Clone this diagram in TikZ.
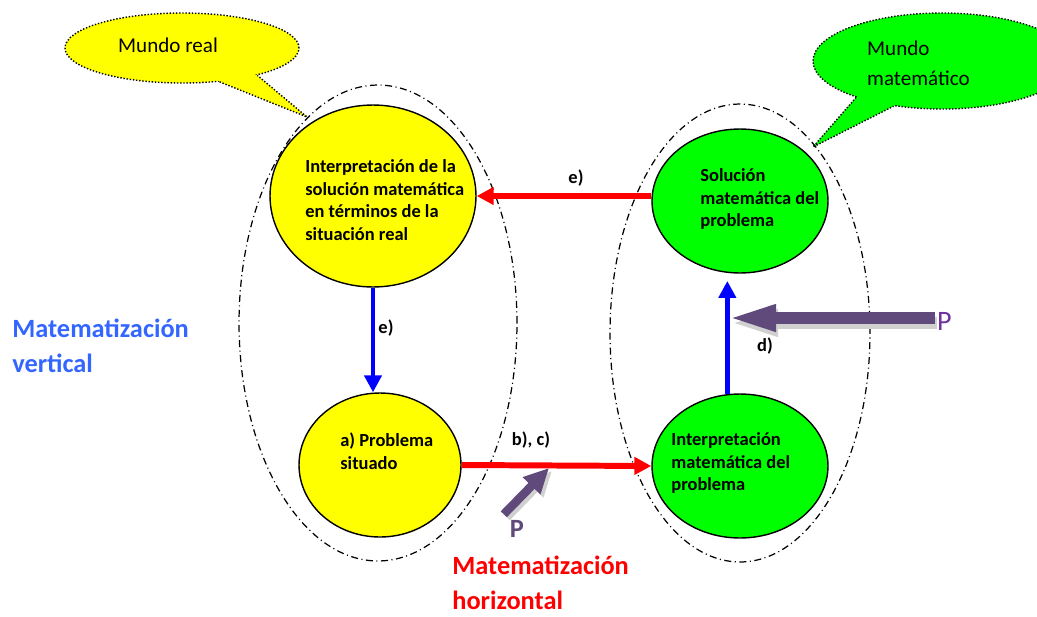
\documentclass[tikz,border=0pt]{standalone}
\usepackage{fontspec}
\setmainfont{Carlito}
\usetikzlibrary{shapes.geometric,arrows.meta}
\definecolor{amarillo}{HTML}{FFFF00}
\definecolor{verde}{HTML}{00FF00}
\definecolor{rojo}{HTML}{FF0000}
\definecolor{azul}{HTML}{0000FF}
\definecolor{azulclaro}{HTML}{3366FF}
\definecolor{morado}{HTML}{604A7B}
\definecolor{violeta}{HTML}{7030A0}
\definecolor{sombra}{HTML}{D0D0D0}
\tikzset{
  fase/.style={ellipse,draw,line width=0.8pt,inner sep=0pt},
  mundo/.style={ellipse,draw,line width=0.7pt,dash pattern=on 4pt off 2pt on 0.6pt off 2pt,inner sep=0pt},
  globo/.style={ellipse,draw,densely dotted,line width=0.8pt,inner sep=0pt},
  texto/.style={anchor=west,align=left,inner sep=0pt,font=\fontsize{10.5}{12.8}\selectfont\bfseries},
  etiq/.style={font=\fontsize{10.5}{12.8}\selectfont\bfseries},
  titulo/.style={anchor=west,align=left,inner sep=0pt,font=\fontsize{15}{20}\selectfont\bfseries},
  flecharoja/.style={draw=rojo,line width=3.4pt,-{Triangle[length=0.34cm,width=0.34cm]}},
  flechaazul/.style={draw=azul,line width=2.8pt,-{Triangle[length=0.34cm,width=0.34cm]}},
  empuje/.style={line width=0.23cm,-{Triangle[length=0.98cm,width=0.48cm]}},
  empujechico/.style={line width=0.17cm,-{Triangle[length=0.5cm,width=0.46cm]}},
}
\begin{document}
\begin{tikzpicture}[x=0.02cm,y=-0.02cm]
  \useasboundingbox (0,0) rectangle (1037,616);
  % globos
  \node[globo,fill=amarillo,minimum width=4.68cm,minimum height=1.4cm] (mr) at (182,48) {};
  \coordinate (mrpunta) at (307,117);
  \fill[amarillo] (mr.-42) -- (mrpunta) -- (mr.-20) -- (mr.center) -- cycle;
  \draw[densely dotted,line width=0.8pt] (mr.-42) -- (mrpunta) -- (mr.-20);
  \node[anchor=west,font=\fontsize{12}{17}\selectfont] (mrtxt) at (112,45) {Mundo real};
  \node[globo,fill=verde,minimum width=5.16cm,minimum height=1.92cm] (mm) at (942,61) {};
  \coordinate (mmpunta) at (813,147);
  \fill[verde] (mm.203) -- (mmpunta) -- (mm.223) -- (mm.center) -- cycle;
  \draw[densely dotted,line width=0.8pt] (mm.203) -- (mmpunta) -- (mm.223);
  \node[anchor=west,align=left,font=\fontsize{12}{17}\selectfont] (mmtxt) at (861,63) {Mundo\\matemático};
  % mundos
  \node[mundo,minimum width=5.56cm,minimum height=9.52cm] (real) at (378,323) {};
  \node[mundo,minimum width=5.2cm,minimum height=9.16cm] (mate) at (740,333) {};
  % fases
  \node[fase,fill=amarillo,minimum width=4.12cm,minimum height=3.64cm] (interp) at (373,196) {};
  \node[fase,fill=amarillo,minimum width=3.24cm,minimum height=2.88cm] (situado) at (380,465) {};
  \node[fase,fill=verde,minimum width=3.52cm,minimum height=2.88cm] (solucion) at (740,201) {};
  \node[fase,fill=verde,minimum width=3.52cm,minimum height=2.88cm] (matint) at (740,466) {};
  \node[texto] (interptxt) at (305,200) {Interpretación de la\\solución matemática\\en términos de la\\situación real};
  \node[texto] (situadotxt) at (340,451) {a) Problema\\situado};
  \node[texto] (soluciontxt) at (700,199) {Solución\\matemática del\\problema};
  \node[texto] (matinttxt) at (671,463) {Interpretación\\matemática del\\problema};
  % flechas
  \draw[flecharoja] (interp.east -| solucion.west) -- (interp.east);
  \draw[flecharoja] (situado.east) -- (matint.west);
  \draw[flechaazul] (interp.south) -- (interp.south |- situado.north);
  \draw[flechaazul,shorten >=0.16cm] (matint.100) -- (solucion.260);
  \node[etiq] (e1) at (576,178) {e)};
  \node[etiq] (e2) at (386,328) {e)};
  \node[etiq] (bc) at (531,440) {b), c)};
  \node[etiq] (d) at (765,346) {d)};
  % P
  \node[anchor=west,inner sep=1pt,text=violeta,font=\fontsize{16}{19}\selectfont] (pd) at (935,321) {P};
  \coordinate (dpunta) at (727,318);
  \draw[empuje,sombra,transform canvas={xshift=0.04cm,yshift=-0.1cm}] (dpunta -| pd.west) -- (dpunta);
  \draw[empuje,morado] (dpunta -| pd.west) -- (dpunta);
  \node[text=morado,font=\fontsize{15}{18}\selectfont\bfseries] (pb) at (517,529) {P};
  \coordinate (bcpunta) at (549,468);
  \draw[empujechico,sombra,transform canvas={xshift=0.06cm,yshift=-0.06cm}] (pb.north west) -- (bcpunta);
  \draw[empujechico,morado] (pb.north west) -- (bcpunta);
  % titulos
  \node[titulo,text=azulclaro] (vert) at (12,346) {Matematización\\vertical};
  \node[titulo,text=rojo] (hor) at (452,583) {Matematización\\horizontal};
\end{tikzpicture}
\end{document}
